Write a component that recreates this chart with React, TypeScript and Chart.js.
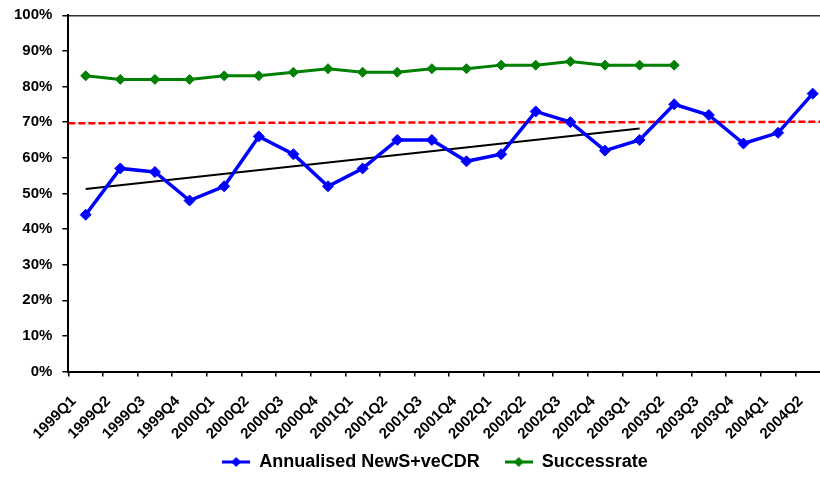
import React, { useEffect, useRef } from "react";
import { Chart, registerables } from "chart.js";

Chart.register(...registerables);

const categories = [
  "1999Q1", "1999Q2", "1999Q3", "1999Q4",
  "2000Q1", "2000Q2", "2000Q3", "2000Q4",
  "2001Q1", "2001Q2", "2001Q3", "2001Q4",
  "2002Q1", "2002Q2", "2002Q3", "2002Q4",
  "2003Q1", "2003Q2", "2003Q3", "2003Q4",
  "2004Q1", "2004Q2",
];

const newsCdr = [44, 57, 56, 48, 52, 66, 61, 52, 57, 65, 65, 59, 61, 73, 70, 62, 65, 75, 72, 64, 67, 78];
const successRate = [83, 82, 82, 82, 83, 83, 84, 85, 84, 84, 85, 85, 86, 86, 87, 86, 86, 86, null, null, null, null];
const trendLine = [51.2, null, null, null, null, null, null, null, null, null, null, null, null, null, null, null, 68.2, null, null, null, null, null];
const targetLine = [69.7, 70.1];

const BLUE = "#0000FF";
const GREEN = "#008000";

function legendMarker(color: string) {
  const c = document.createElement("canvas");
  c.width = 28;
  c.height = 12;
  const ctx = c.getContext("2d")!;
  ctx.strokeStyle = color;
  ctx.lineWidth = 3;
  ctx.beginPath();
  ctx.moveTo(0, 6);
  ctx.lineTo(28, 6);
  ctx.stroke();
  ctx.fillStyle = color;
  ctx.beginPath();
  ctx.moveTo(14, 1);
  ctx.lineTo(19, 6);
  ctx.lineTo(14, 11);
  ctx.lineTo(9, 6);
  ctx.closePath();
  ctx.fill();
  return c;
}

const LEGEND_SHRINK = 31;

const legendShift = {
  id: "legendShift",
  beforeLayout(chart: any) {
    const lg = chart.legend;
    if (lg && !lg.__patched) {
      const orig = lg.fit.bind(lg);
      lg.fit = function () {
        orig();
        this.height -= LEGEND_SHRINK;
      };
      lg.__patched = true;
    }
  },
  afterLayout(chart: any) {
    const lg = chart.legend;
    if (lg) {
      lg.left += 18;
      lg.right += 18;
      lg.top -= LEGEND_SHRINK;
      lg.height += LEGEND_SHRINK;
    }
  },
};

export default function App() {
  const ref = useRef<HTMLCanvasElement>(null);

  useEffect(() => {
    if (!ref.current) return;
    const font = "'Liberation Sans', Arial, sans-serif";
    Chart.defaults.font.family = font;
    const markers = [legendMarker(BLUE), legendMarker(GREEN)];
    const chart = new Chart(ref.current, {
      type: "line",
      plugins: [legendShift],
      data: {
        labels: categories,
        datasets: [
          {
            label: "Annualised NewS+veCDR",
            data: newsCdr,
            borderColor: BLUE,
            backgroundColor: BLUE,
            borderWidth: 3.5,
            pointStyle: "rectRot",
            pointRadius: 5.5,
            pointBorderWidth: 1,
            tension: 0,
          },
          {
            label: "Successrate",
            data: successRate,
            borderColor: GREEN,
            backgroundColor: GREEN,
            borderWidth: 3,
            pointStyle: "rectRot",
            pointRadius: 5,
            pointBorderWidth: 1,
            tension: 0,
          },
          {
            label: "trend",
            data: trendLine,
            borderColor: "#000000",
            borderWidth: 2,
            pointRadius: 0,
            spanGaps: true,
          },
          {
            label: "target",
            data: targetLine.map((v, i) => ({ x: i, y: v })),
            xAxisID: "x2",
            borderColor: "#FF0000",
            borderWidth: 2.5,
            borderDash: [7, 3],
            pointRadius: 0,
          },
        ],
      },
      options: {
        animation: false,
        responsive: true,
        maintainAspectRatio: false,
        layout: { padding: { left: 4, right: 10, top: 1, bottom: 6 } },
        scales: {
          x: {
            type: "category",
            offset: true,
            afterFit: (scale: any) => {
              scale.paddingLeft = 0;
              scale.paddingRight = 0;
            },
            border: { display: true, color: "#000", width: 2 },
            grid: {
              offset: true,
              drawOnChartArea: false,
              color: "#000",
              tickColor: "#000",
              tickLength: 5,
              lineWidth: 1.5,
            },
            ticks: {
              autoSkip: false,
              maxRotation: 45,
              minRotation: 45,
              labelOffset: -12,
              padding: 16,
              color: "#000",
              font: { size: 15, weight: "bold" },
            },
          },
          x2: {
            type: "linear",
            display: false,
            min: 0,
            max: 1,
          },
          y: {
            min: 0,
            max: 100,
            border: { display: true, color: "#000", width: 2 },
            grid: {
              color: (ctx: any) => (ctx.tick && ctx.tick.value === 100 ? "#333" : "rgba(0,0,0,0)"),
              tickColor: "#000",
              tickLength: 6,
              lineWidth: 1.5,
            },
            ticks: {
              stepSize: 10,
              padding: 10,
              color: "#000",
              font: { size: 15, weight: "bold", lineHeight: 0.7 },
              callback: (v: any) => v + "%",
            },
          },
        },
        plugins: {
          tooltip: { enabled: false },
          legend: {
            position: "bottom",
            labels: {
              color: "#000",
              font: { size: 18, weight: "bold" },
              usePointStyle: true,
              pointStyleWidth: 28,
              padding: 25,
              filter: (item: any) => item.datasetIndex < 2,
              generateLabels: (ch: any) =>
                ch.data.datasets.slice(0, 2).map((ds: any, i: number) => ({
                  text: ds.label,
                  fillStyle: ds.borderColor,
                  strokeStyle: ds.borderColor,
                  lineWidth: 0,
                  pointStyle: markers[i],
                  datasetIndex: i,
                  hidden: false,
                  fontColor: "#000",
                })),
            },
          },
        },
      },
    });
    return () => chart.destroy();
  }, []);

  return (
    <div style={{ position: "fixed", left: 0, top: 0, width: 840, height: 487, background: "#fff" }}>
      <canvas ref={ref} />
    </div>
  );
}
